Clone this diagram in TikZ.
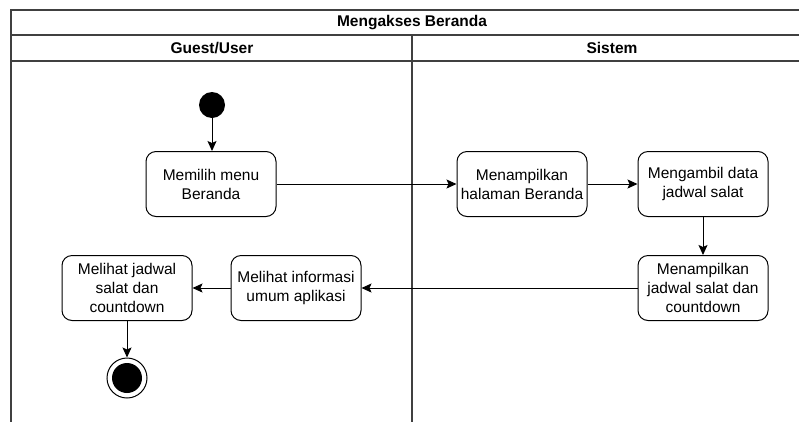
\documentclass[tikz,border=0pt]{standalone}
\usepackage{fontspec}
\setmainfont{Liberation Sans}
\usetikzlibrary{arrows.meta}
\begin{document}
\begin{tikzpicture}[x=1pt,y=-1pt,
  lane/.style={draw=black!75,line width=1.4pt},
  act/.style={draw=black,line width=1pt,rounded corners=10pt,minimum width=130pt,
    minimum height=65pt,align=center,inner sep=2pt,
    font=\fontsize{15.5}{19}\selectfont},
  flow/.style={draw=black,line width=1pt,-{Stealth[length=10pt,width=9pt,inset=2pt]}},
  hdr/.style={font=\fontsize{15.5}{19}\selectfont\bfseries}]
\useasboundingbox (0,0) rectangle (799,421);
\begin{scope}
\clip (0,0) rectangle (799,421);
% swimlane frame
\draw[lane] (11,440) -- (11,10) -- (830,10);
\draw[lane] (11,35) -- (830,35);
\draw[lane] (11,61) -- (830,61);
\draw[lane] (412,35) -- (412,440);
\end{scope}
\node[hdr] (title) at (412,23) {Mengakses Beranda};
\node[hdr] (lane1) at (212,48) {Guest/User};
\node[hdr] (lane2) at (612,48) {Sistem};
% activities
\node[circle,fill=black,minimum size=26pt,inner sep=0pt] (start) at (212,105) {};
\node[act] (a1) at (211,184) {Memilih menu\\Beranda};
\node[act] (a2) at (522,184) {Menampilkan\\halaman Beranda};
\node[act] (a3) at (703,184) {Mengambil data\\jadwal salat};
\node[act] (a4) at (703,288) {Menampilkan\\jadwal salat dan\\countdown};
\node[act] (a5) at (296,288) {Melihat informasi\\umum aplikasi};
\node[act] (a6) at (127,288) {Melihat jadwal\\salat dan\\countdown};
\node[circle,draw=black,line width=1pt,fill=white,minimum size=40pt,inner sep=0pt] (end) at (127,378) {};
\node[circle,fill=black,minimum size=30pt,inner sep=0pt] (endin) at (end) {};
% transitions
\draw[flow] (start) -- (start |- a1.north);
\draw[flow] (a1) -- (a2);
\draw[flow] (a2) -- (a3);
\draw[flow] (a3) -- (a4);
\draw[flow] (a4) -- (a5);
\draw[flow] (a5) -- (a6);
\draw[flow] (a6) -- (end);
\end{tikzpicture}
\end{document}
